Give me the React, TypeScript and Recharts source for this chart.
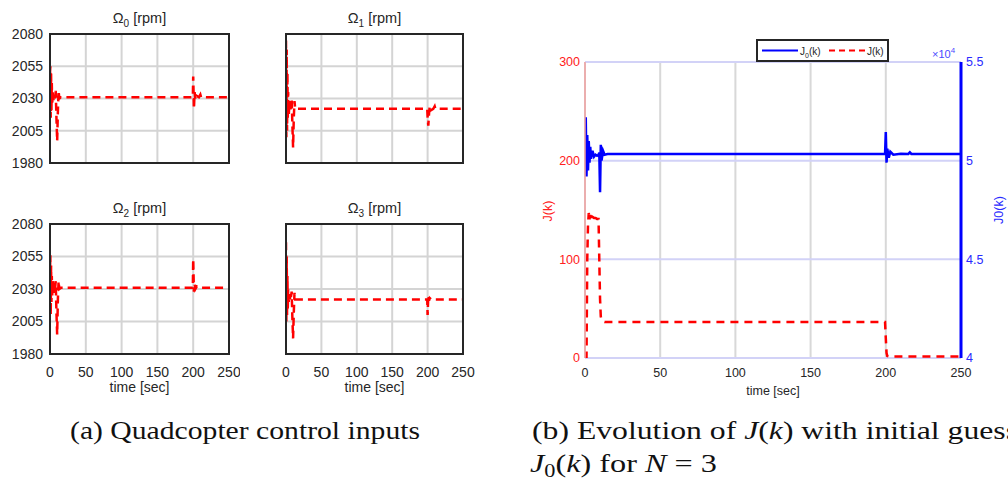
import { LineChart, Line, XAxis, YAxis, CartesianGrid, Legend } from 'recharts'

const SANS = '"Liberation Sans", Arial, Helvetica, sans-serif'
const SERIF = '"Liberation Serif", "Times New Roman", serif'
const DARK = '#262626'

// ---- (a) rotor speeds ----
const tRpm = [0, 0.5, 1, 1.5, 2, 2.5, 3, 4, 5, 6, 7, 8, 9, 10, 11, 12, 13, 15, 20, 50, 100, 150, 198, 199.5, 200, 201, 202, 203, 205, 208, 210, 211, 215, 220, 250]
const omega0 = [2050, 2055, 2015, 2050, 2020, 2042, 2025, 2036, 2028, 2033, 2030, 2036, 2015, 1997, 2020, 2036, 2030, 2031, 2031, 2031, 2031, 2031, 2031, 2031, 2047, 2022, 2035, 2029, 2032, 2031, 2033, 2031, 2031, 2031, 2031]
const omega1 = [2075, 2000, 2068, 2005, 2050, 2015, 2035, 2018, 2028, 2020, 2024, 2030, 2010, 1992, 2015, 2028, 2022, 2022, 2022, 2022, 2022, 2022, 2022, 2022, 2016, 2009, 2018, 2024, 2021, 2022, 2024, 2022, 2022, 2022, 2022]
const omega2 = [2045, 2056, 2010, 2048, 2020, 2040, 2024, 2036, 2027, 2033, 2030, 2036, 2012, 1995, 2022, 2036, 2030, 2031, 2031, 2031, 2031, 2031, 2031, 2031, 2053, 2028, 2034, 2030, 2032, 2031, 2031, 2031, 2031, 2031, 2031]
const omega3 = [2066, 2005, 2055, 2010, 2040, 2015, 2030, 2020, 2026, 2021, 2024, 2028, 2008, 1992, 2012, 2027, 2022, 2022, 2022, 2022, 2022, 2022, 2022, 2022, 2010, 2025, 2021, 2023, 2022, 2022, 2022, 2022, 2022, 2022, 2022]
const rpmTicks = [1980, 2005, 2030, 2055, 2080]
const timeTicks = [0, 50, 100, 150, 200, 250]

// ---- (b) cost ----
const tCost = [0, 0.5, 1, 1.5, 2, 2.5, 3, 3.5, 4, 5, 6, 7, 8, 9, 9.5, 10, 10.5, 11, 12, 13, 15, 20, 50, 100, 150, 198, 199.5, 200, 200.5, 201, 202, 203, 205, 210, 215, 216, 217, 220, 250]
const j0Cost = [50800, 52200, 49200, 51300, 49500, 51000, 49900, 50700, 50100, 50500, 50200, 50300, 50250, 50300, 50400, 48400, 50800, 50000, 50500, 50300, 50340, 50340, 50340, 50340, 50340, 50340, 50340, 51450, 49900, 50600, 50150, 50450, 50300, 50350, 50340, 50420, 50340, 50340, 50340]
const jCost = [0, 0, 0, 100, 135, 147, 140, 145, 139, 143, 142, 142, 141, 141, 100, 60, 42, 39, 37, 36.5, 36.5, 36.5, 36.5, 36.5, 36.5, 36.5, 36.5, 20, 5, 2, 1.5, 1.5, 1.5, 1.5, 1.5, 1.5, 1.5, 1.5, 1.5]
const jTicks = [0, 100, 200, 300]
const j0Ticks = [40000, 45000, 50000, 55000]

const rpmData = tRpm.map((t, i) => ({ t, w0: omega0[i], w1: omega1[i], w2: omega2[i], w3: omega3[i] }))
const costData = tCost.map((t, i) => ({ t, j0: j0Cost[i], j: jCost[i] }))

const PANELS = [
  { key: 'w0', sub: '0', left: 0, top: 0, plot: { l: 50, t: 34, r: 229, b: 163 }, yLabels: true, xLabels: false },
  { key: 'w1', sub: '1', left: 240, top: 0, plot: { l: 286, t: 34, r: 463, b: 163 }, yLabels: false, xLabels: false },
  { key: 'w2', sub: '2', left: 0, top: 190, plot: { l: 50, t: 224, r: 229, b: 354 }, yLabels: true, xLabels: true },
  { key: 'w3', sub: '3', left: 240, top: 190, plot: { l: 286, t: 224, r: 463, b: 354 }, yLabels: false, xLabels: true },
]

const blank = () => ''

function RpmPanel({ p }: { p: typeof PANELS[number] }) {
  const W = 240
  const H = 210
  const xH = 30
  const tickStyle = { fontSize: 14, fill: DARK, fontFamily: SANS }
  return (
    <div style={{ position: 'absolute', left: p.left, top: p.top }}>
      <LineChart
        width={W}
        height={H}
        data={rpmData}
        margin={{ top: p.plot.t - p.top, right: p.left + W - p.plot.r, bottom: p.top + H - p.plot.b - xH, left: 0 }}
      >
        <CartesianGrid stroke="#d4d4d4" strokeWidth={2} />
        <XAxis dataKey="t" type="number" domain={[0, 250]} ticks={timeTicks} allowDataOverflow height={xH}
          tick={tickStyle} tickFormatter={p.xLabels ? undefined : blank}
          tickLine={false} tickSize={8} tickMargin={5} axisLine={false} />
        <YAxis domain={[1980, 2080]} ticks={rpmTicks} allowDataOverflow width={p.plot.l - p.left}
          tick={tickStyle} tickFormatter={p.yLabels ? undefined : blank}
          tickLine={false} tickSize={4} tickMargin={3} axisLine={false} />
        <Line type="linear" dataKey={p.key} stroke="#ff0000" strokeWidth={2.5} strokeDasharray="8 5"
          dot={false} isAnimationActive={false} />
      </LineChart>
    </div>
  )
}

const LEGEND_ORDER = ['j0', 'j']
const LEGEND_TEXT: Record<string, [string, string, string]> = {
  j0: ['J', '0', '(k)'],
  j: ['J', '', '(k)'],
}

function CostLegend({ payload }: any) {
  const items = [...(payload ?? [])].sort(
    (a: any, b: any) => LEGEND_ORDER.indexOf(a.dataKey) - LEGEND_ORDER.indexOf(b.dataKey),
  )
  return (
    <svg width={133} height={23} style={{ display: 'block' }}>
      <rect x={1} y={1} width={131} height={21} fill="#fff" stroke={DARK} strokeWidth={2} />
      {items.map((it: any, i: number) => {
        const x0 = 6 + i * 67
        const [b, s, r] = LEGEND_TEXT[it.dataKey] ?? [String(it.value), '', '']
        return (
          <g key={it.dataKey}>
            <line x1={x0} x2={x0 + 36} y1={11.5} y2={11.5} stroke={it.color} strokeWidth={2}
              strokeDasharray={it.dataKey === 'j' ? '6 4' : undefined} />
            <text x={x0 + 38} y={15.5} fontSize={10} fontFamily={SANS} fill={DARK}>
              {b}
              {s && <tspan dy={3} fontSize={7}>{s}</tspan>}
              <tspan dy={s ? -3 : 0}>{r}</tspan>
            </text>
          </g>
        )
      })}
    </svg>
  )
}

function CostChart() {
  return (
    <div style={{ position: 'absolute', left: 520, top: 30 }}>
      <LineChart width={488} height={390} data={costData} margin={{ top: 32, right: 0, bottom: 32, left: 0 }}>
        <CartesianGrid yAxisId="left" horizontal={false} stroke="#d8d8d8" strokeWidth={2} />
        <CartesianGrid yAxisId="left" vertical={false} stroke="#d2d2f7" strokeWidth={2} />
        <XAxis dataKey="t" type="number" domain={[0, 250]} ticks={timeTicks} allowDataOverflow height={30}
          axisLine={false} tickLine={false} tickSize={6} tickMargin={4}
          tick={{ fontSize: 12.5, fill: DARK, fontFamily: SANS }} />
        <YAxis yAxisId="left" domain={[0, 300]} ticks={jTicks} allowDataOverflow width={65}
          axisLine={{ stroke: '#f2a0a0', strokeWidth: 1.5 }} tickLine={false} tickSize={3} tickMargin={2}
          tick={{ fontSize: 12.5, fill: '#ff2020', fontFamily: SANS }} />
        <YAxis yAxisId="right" orientation="right" domain={[40000, 55000]} ticks={j0Ticks} allowDataOverflow width={47}
          tickFormatter={(v: number) => String(v / 10000)}
          axisLine={{ stroke: '#0000ff', strokeWidth: 3 }} tickLine={false} tickSize={3} tickMargin={2}
          tick={{ fontSize: 12.5, fill: '#2a2aff', fontFamily: SANS }} />
        <Legend layout="horizontal" verticalAlign="middle" align="center" content={<CostLegend />}
          wrapperStyle={{ left: 236, top: 9, width: 133, height: 23 }} />
        <Line yAxisId="right" type="linear" dataKey="j0" name="J0(k)" stroke="#0000ff" strokeWidth={2.5}
          dot={false} isAnimationActive={false} />
        <Line yAxisId="left" type="linear" dataKey="j" name="J(k)" stroke="#ff0000" strokeWidth={2.5}
          strokeDasharray="8 6" dot={false} isAnimationActive={false} />
      </LineChart>
    </div>
  )
}

function Overlay() {
  return (
    <svg width={1008} height={481} style={{ position: 'absolute', left: 0, top: 0, pointerEvents: 'none' }}>
      {PANELS.map((p) => {
        const cx = (p.plot.l + p.plot.r) / 2
        return (
          <g key={p.key}>
            {/* MATLAB-style box around each subplot */}
            <rect x={p.plot.l} y={p.plot.t} width={p.plot.r - p.plot.l} height={p.plot.b - p.plot.t}
              fill="none" stroke={DARK} strokeWidth={2} />
            <text x={cx} y={p.plot.t - 11} textAnchor="middle" fontSize={14.5} fontFamily={SANS} fill={DARK}>
              Ω<tspan dy={4} fontSize={10}>{p.sub}</tspan><tspan dy={-4}> [rpm]</tspan>
            </text>
            {p.xLabels && (
              <text x={cx} y={p.plot.b + 38} textAnchor="middle" fontSize={14} fontFamily={SANS} fill={DARK}>
                time [sec]
              </text>
            )}
          </g>
        )
      })}

      <text x={773} y={395} textAnchor="middle" fontSize={12.5} fontFamily={SANS} fill={DARK}>time [sec]</text>
      <text transform="translate(552,211) rotate(-90)" textAnchor="middle" fontSize={12.5} fontFamily={SANS} fill="#ff2020">J(k)</text>
      <text transform="translate(1003,210) rotate(-90)" textAnchor="middle" fontSize={12.5} fontFamily={SANS} fill="#2a2aff">J0(k)</text>
      <text x={932} y={58} fontSize={11} fontFamily={SANS} fill="#4a4aff">
        ×10<tspan dy={-5} fontSize={8}>4</tspan>
      </text>

      <text x={70} y={439} fontSize={26} fontFamily={SERIF} fill="#111" textLength={350} lengthAdjust="spacingAndGlyphs">
        (a) Quadcopter control inputs
      </text>
      <text x={532} y={439} fontSize={26} fontFamily={SERIF} fill="#111" textLength={486} lengthAdjust="spacingAndGlyphs">
        (b) Evolution of <tspan fontStyle="italic">J</tspan>(<tspan fontStyle="italic">k</tspan>) with initial guess
      </text>
      <text x={530} y={472} fontSize={26} fontFamily={SERIF} fill="#111" textLength={187} lengthAdjust="spacingAndGlyphs">
        <tspan fontStyle="italic">J</tspan><tspan dy={5} fontSize={18}>0</tspan><tspan dy={-5}>(</tspan><tspan fontStyle="italic">k</tspan>) for <tspan fontStyle="italic">N</tspan> = 3
      </text>
    </svg>
  )
}

export default function App() {
  return (
    <div style={{ position: 'absolute', left: 0, top: 0, width: 1008, height: 481, background: '#fff', overflow: 'hidden' }}>
      {PANELS.map((p) => <RpmPanel key={p.key} p={p} />)}
      <CostChart />
      <Overlay />
    </div>
  )
}
